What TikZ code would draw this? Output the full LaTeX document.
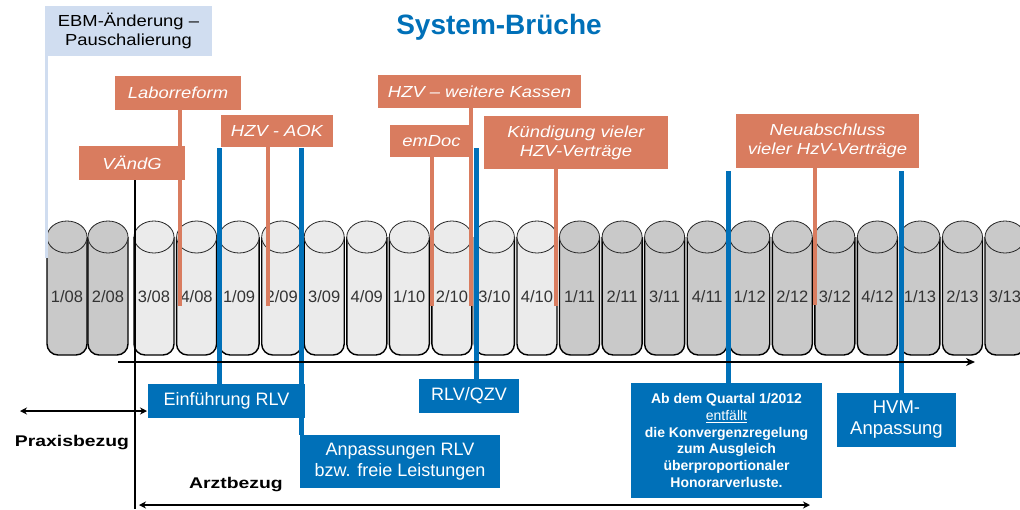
\documentclass[tikz,border=0pt]{standalone}
\usepackage{fontspec}
\usepackage{graphicx}
\setmainfont{Liberation Sans}
\newfontfamily\strfont[FakeStretch=1.15]{Liberation Sans}
\newfontfamily\widefont[FakeStretch=1.25]{Liberation Sans}
\usetikzlibrary{arrows.meta}
\definecolor{orng}{HTML}{D97C5F}
\definecolor{blu}{HTML}{0070B8}
\definecolor{lblu}{HTML}{D0DDF0}
\definecolor{cyldark}{HTML}{C9C9C9}
\definecolor{cyllight}{HTML}{EBEBEB}
\newcommand\mycyl[4]{%
  \draw[fill=#3, line width=1.4pt, draw=black, rounded corners=11pt] (#1,237) -- (#1,355) -- (#1+40,355) -- (#1+40,237);
  \draw[fill=#3, line width=0.8pt, draw=black!85] (#1+20,237) ellipse[x radius=20pt, y radius=16pt];
  \node[cyllabel] (#4) at (#1+20,297) {#2};
}
\begin{document}
\begin{tikzpicture}[x=1pt,y=-1pt,
  obox/.style={fill=orng, text=white, inner sep=0pt, align=center, font=\strfont\itshape\fontsize{16}{19}\selectfont},
  bbox/.style={fill=blu, text=white, inner sep=0pt, align=center, font=\fontsize{18}{21}\selectfont},
  oline/.style={draw=orng, line width=4pt},
  bline/.style={draw=blu, line width=5pt},
  cyllabel/.style={font=\fontsize{16.5}{19}\selectfont, text=black!80, inner sep=0pt},
  axisline/.style={line width=2.5pt, draw=black},
  sidetext/.style={font=\widefont\bfseries\fontsize{15.5}{18}\selectfont, inner sep=0pt},
]
\useasboundingbox (0,0) rectangle (1020,509);

% cylinders
\mycyl{47}{1/08}{cyldark}{c0}
\mycyl{88}{2/08}{cyldark}{c1}
\mycyl{134}{3/08}{cyllight}{c2}
\mycyl{176.6}{4/08}{cyllight}{c3}
\mycyl{219.1}{1/09}{cyllight}{c4}
\mycyl{261.7}{2/09}{cyllight}{c5}
\mycyl{304.2}{3/09}{cyllight}{c6}
\mycyl{346.8}{4/09}{cyllight}{c7}
\mycyl{389.3}{1/10}{cyllight}{c8}
\mycyl{431.9}{2/10}{cyllight}{c9}
\mycyl{474.4}{3/10}{cyllight}{c10}
\mycyl{517.0}{4/10}{cyllight}{c11}
\mycyl{559.5}{1/11}{cyldark}{c12}
\mycyl{602.1}{2/11}{cyldark}{c13}
\mycyl{644.6}{3/11}{cyldark}{c14}
\mycyl{687.2}{4/11}{cyldark}{c15}
\mycyl{729.7}{1/12}{cyldark}{c16}
\mycyl{772.3}{2/12}{cyldark}{c17}
\mycyl{814.8}{3/12}{cyldark}{c18}
\mycyl{857.4}{4/12}{cyldark}{c19}
\mycyl{899.9}{1/13}{cyldark}{c20}
\mycyl{942.5}{2/13}{cyldark}{c21}
\mycyl{985}{3/13}{cyldark}{c22}

% title
\node[font=\bfseries\fontsize{28}{32}\selectfont, text=blu] (title) at (499,27) {System-Brüche};

% coordinates
\coordinate (ebmE) at (46,258);
\coordinate (o1) at (180,306);
\coordinate (o2) at (268,306);
\coordinate (o3) at (432,306);
\coordinate (o4) at (471,306);
\coordinate (o5) at (556,306);
\coordinate (o6) at (815,305);
\coordinate (b1) at (219,148);
\coordinate (b2) at (301,148);
\coordinate (b3) at (476,148);
\coordinate (b4) at (728,171);
\coordinate (b5) at (901,171);
\coordinate (vE) at (135,509);
\coordinate (ax0) at (118,362);
\coordinate (ax1) at (975,362);
\coordinate (p0) at (20,411);
\coordinate (p1) at (147,411);
\coordinate (a0) at (139,505);
\coordinate (a1) at (810,505);

% box positions (invisible, for anchors)
\path
 node[inner sep=0pt, minimum width=167pt, minimum height=50pt] (ebm) at (128.5,31) {}
 node[inner sep=0pt, minimum width=126pt, minimum height=34pt] (labor) at (178,93) {}
 node[inner sep=0pt, minimum width=106pt, minimum height=34pt] (vaendg) at (132,163) {}
 node[inner sep=0pt, minimum width=112pt, minimum height=32pt] (hzvaok) at (277,131) {}
 node[inner sep=0pt, minimum width=203pt, minimum height=33pt] (hzvweit) at (479.5,91.5) {}
 node[inner sep=0pt, minimum width=83pt, minimum height=32pt] (emdoc) at (431.5,141) {}
 node[inner sep=0pt, minimum width=184pt, minimum height=53pt] (kuend) at (576,142.5) {}
 node[inner sep=0pt, minimum width=183pt, minimum height=54pt] (neu) at (827.5,141) {}
 node[inner sep=0pt, minimum width=157pt, minimum height=34pt] (einf) at (226.5,401) {}
 node[inner sep=0pt, minimum width=200pt, minimum height=53pt] (anp) at (400,461.5) {}
 node[inner sep=0pt, minimum width=100pt, minimum height=34pt] (rlv) at (469,396) {}
 node[inner sep=0pt, minimum width=191pt, minimum height=115pt] (quartal) at (726.5,440.5) {}
 node[inner sep=0pt, minimum width=119pt, minimum height=54pt] (hvm) at (896.5,420) {};

% connectors
\draw[lblu, line width=3pt] (ebmE |- ebm.south) -- (ebmE);
\draw[oline] (o1 |- labor.south) -- (o1);
\draw[oline] (o2 |- hzvaok.south) -- (o2);
\draw[oline] (o3 |- emdoc.south) -- (o3);
\draw[oline] (o4 |- hzvweit.south) -- (o4);
\draw[oline] (o5 |- kuend.south) -- (o5);
\draw[oline] (o6 |- neu.south) -- (o6);
\draw[bline] (b1) -- (b1 |- einf.north);
\draw[bline] (b2) -- (b2 |- anp.north);
\draw[bline] (b3) -- (b3 |- rlv.north);
\draw[bline] (b4) -- (b4 |- quartal.north);
\draw[bline] (b5) -- (b5 |- hvm.north);
\draw[axisline] (vE |- vaendg.south) -- (vE);
\draw[axisline, -{Stealth[length=9pt,width=8pt]}] (ax0) -- (ax1);
\draw[line width=2pt, {Stealth[length=7pt,width=7pt]}-{Stealth[length=7pt,width=7pt]}] (p0) -- (p1);
\draw[line width=2pt, {Stealth[length=7pt,width=7pt]}-{Stealth[length=7pt,width=7pt]}] (a0) -- (a1);

% boxes on top
\node[fill=lblu, inner sep=0pt, align=center, minimum width=167pt, minimum height=50pt, font=\strfont\fontsize{16}{19}\selectfont] (ebmT) at (ebm) {EBM-Änderung –\\Pauschalierung};
\node[obox, minimum width=126pt, minimum height=34pt] (laborT) at (labor) {Laborreform};
\node[obox, minimum width=106pt, minimum height=34pt] (vaendgT) at (vaendg) {VÄndG};
\node[obox, minimum width=112pt, minimum height=32pt] (hzvaokT) at (hzvaok) {HZV - AOK};
\node[obox, minimum width=203pt, minimum height=33pt] (hzvweitT) at (hzvweit) {HZV – weitere Kassen};
\node[obox, minimum width=83pt, minimum height=32pt] (emdocT) at (emdoc) {emDoc};
\node[obox, minimum width=184pt, minimum height=53pt] (kuendT) at (kuend) {Kündigung vieler\\HZV-Verträge};
\node[obox, minimum width=183pt, minimum height=54pt] (neuT) at (neu) {Neuabschluss\\vieler HzV-Verträge};
\node[bbox, minimum width=157pt, minimum height=34pt] (einfT) at (einf) {Einführung RLV};
\node[bbox, minimum width=200pt, minimum height=53pt] (anpT) at (anp) {Anpassungen RLV\\bzw. freie Leistungen};
\node[bbox, minimum width=100pt, minimum height=34pt] (rlvT) at (rlv) {RLV/QZV};
\node[bbox, minimum width=191pt, minimum height=115pt, font=\bfseries\fontsize{14}{16.7}\selectfont] (quartalT) at (quartal) {Ab dem Quartal 1/2012\\{\mdseries\underline{entfällt}}\\die Konvergenzregelung\\zum Ausgleich\\überproportionaler\\Honorarverluste.};
\node[bbox, minimum width=119pt, minimum height=54pt, font=\fontsize{18.5}{21}\selectfont] (hvmT) at (hvm) {HVM-\\Anpassung};

% side labels
\node[sidetext] (praxis) at (72,443) {Praxisbezug};
\node[sidetext] (arzt) at (236,485) {Arztbezug};
\end{tikzpicture}
\end{document}
